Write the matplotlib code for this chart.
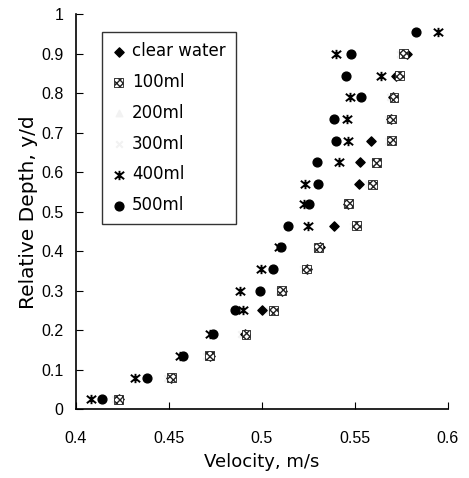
import numpy as np
import matplotlib.pyplot as plt
from matplotlib.path import Path

plt.rcParams['font.family'] = ['Liberation Sans', 'DejaVu Sans']

depth = [0.025, 0.08, 0.135, 0.19, 0.25, 0.30, 0.355, 0.41, 0.465,
         0.52, 0.57, 0.625, 0.68, 0.735, 0.79, 0.845, 0.90, 0.955]

nan = np.nan
clear_water = [0.423, 0.451, 0.472, 0.491, 0.500, 0.511, 0.524, 0.531, 0.5385,
               0.5465, 0.5524, 0.553, 0.5588, 0.5695, 0.5706, 0.572, 0.578, nan]
ml100 = [0.423, 0.4513, 0.4717, 0.4914, 0.5064, 0.5107, 0.524, 0.5305, 0.5508,
         0.5465, 0.5594, 0.5615, 0.5695, 0.5695, 0.571, 0.574, 0.576, nan]
ml200 = [0.422, 0.450, 0.471, 0.490, 0.505, 0.510, 0.523, 0.530, 0.550,
         0.546, 0.558, 0.561, 0.569, 0.569, 0.570, 0.573, 0.575, nan]
ml300 = [0.421, 0.449, 0.470, 0.489, 0.504, 0.509, 0.522, 0.529, 0.549,
         0.545, 0.557, 0.560, 0.568, 0.568, 0.569, 0.572, 0.574, nan]
ml400 = [0.408, 0.4316, 0.456, 0.472, 0.490, 0.488, 0.4995, 0.509, 0.525,
         0.5225, 0.523, 0.5412, 0.5465, 0.5455, 0.5476, 0.564, 0.5396, 0.5947]
ml500 = [0.4139, 0.438, 0.4575, 0.4735, 0.4856, 0.499, 0.5059, 0.510, 0.514,
         0.5255, 0.530, 0.5294, 0.5396, 0.539, 0.5535, 0.545, 0.548, 0.583]

xticks = [0.4, 0.45, 0.5, 0.55, 0.6]
xticklabels = ['0.4', '0.45', '0.5', '0.55', '0.6']
yticks = [0, 0.1, 0.2, 0.3, 0.4, 0.5, 0.6, 0.7, 0.8, 0.9, 1]
yticklabels = ['0', '0.1', '0.2', '0.3', '0.4', '0.5', '0.6', '0.7', '0.8', '0.9', '1']

# x with a vertical bar through it (excel "star" marker)
star = Path([(-1, -0.8), (1, 0.8), (-1, 0.8), (1, -0.8), (0, -1), (0, 1)],
            [Path.MOVETO, Path.LINETO, Path.MOVETO, Path.LINETO, Path.MOVETO, Path.LINETO])

fig = plt.figure(figsize=(4.69, 4.78), dpi=100)
ax = fig.add_axes([0.162, 0.144, 0.793, 0.826])

ax.scatter(clear_water, depth, marker='D', s=22, color='black', label='clear water', zorder=3)
ax.scatter(ml100, depth, marker='s', s=40, facecolor='white', edgecolor='#222222',
           hatch='xxxxx', linewidth=0.6, label='100ml', zorder=3)
ax.scatter(ml200, depth, marker='^', s=22, color='#f2f2f2', label='200ml', zorder=2)
ax.scatter(ml300, depth, marker='x', s=22, color='#f2f2f2', label='300ml', zorder=2)
ax.scatter(ml400, depth, marker=star, s=45, color='black', linewidth=1.4,
           label='400ml', zorder=3)
ax.scatter(ml500, depth, marker='o', s=40, color='black', label='500ml', zorder=3)

ax.set_xlim(0.4, 0.6)
ax.set_ylim(0, 1)
ax.set_xticks(xticks)
ax.set_xticklabels(xticklabels)
ax.set_yticks(yticks)
ax.set_yticklabels(yticklabels)
ax.tick_params(direction='in', length=5, labelsize=11.5)
ax.tick_params(axis='x', pad=16)
ax.tick_params(axis='y', pad=9)
ax.spines['top'].set_visible(False)
ax.spines['right'].set_visible(False)
ax.spines['left'].set_linewidth(1.2)
ax.spines['bottom'].set_linewidth(1.2)

ax.set_xlabel('Velocity, m/s', fontsize=13, family=['DejaVu Sans'], labelpad=5)
ax.set_ylabel('Relative Depth, y/d', fontsize=14.5, family=['DejaVu Sans'], labelpad=2)

leg = ax.legend(loc='upper left', bbox_to_anchor=(0.07, 0.955),
                prop={'family': 'DejaVu Sans', 'size': 12},
                frameon=True, fancybox=False, edgecolor='black', labelspacing=0.77,
                handlelength=0.8, handletextpad=0.4, borderpad=0.6, borderaxespad=0)
leg.get_frame().set_linewidth(1.0)

fig.savefig('out.png', dpi=100)
